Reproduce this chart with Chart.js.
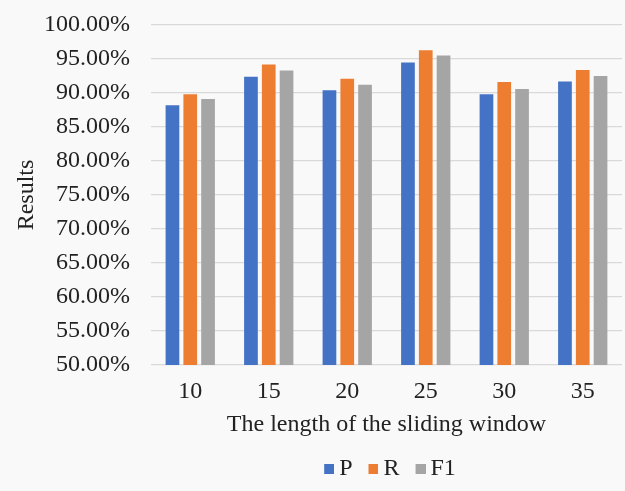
<!DOCTYPE html>
<html>
<head>
<meta charset="utf-8">
<script src="https://cdn.jsdelivr.net/npm/chart.js@4"></script>
<style>
  html, body { margin: 0; padding: 0; background: #f9f9f9; }
  #wrap { width: 625px; height: 491px; }
</style>
</head>
<body>
<div id="wrap"><canvas id="c" width="625" height="491"></canvas></div>
<script>
// Sliding-window lengths and the resulting scores (%)
const windowLengths = ['10', '15', '20', '25', '30', '35'];
const seriesNames = ['P', 'R', 'F1'];
const precision = [88.2, 92.4, 90.4, 94.5, 89.8, 91.7];
const recall    = [89.8, 94.2, 92.1, 96.3, 91.6, 93.4];
const f1Score   = [89.1, 93.3, 91.2, 95.5, 90.6, 92.5];
const seriesColors = ['#4472C4', '#ED7D31', '#A5A5A5'];

const serif = '"Liberation Serif", "Times New Roman", serif';
const ink = '#222222';

// Legend swatch: a 10px square at the right of a wider transparent
// canvas, so it sits close to its label text.
function swatch(color) {
  const cv = document.createElement('canvas');
  cv.width = 24; cv.height = 10;
  const g = cv.getContext('2d');
  g.fillStyle = color;
  g.fillRect(14, 0, 10, 10);
  return cv;
}

// Centre the legend under the plot area
const legendShift = {
  id: 'legendShift',
  afterLayout(chart) {
    const lg = chart.legend;
    const area = chart.chartArea;
    const dx = (area.left + area.right) / 2 - (lg.left + lg.right) / 2;
    lg.left += dx;
    lg.right += dx;
  }
};

new Chart(document.getElementById('c'), {
  type: 'bar',
  data: {
    labels: windowLengths,
    datasets: [
      { label: seriesNames[0], data: precision, backgroundColor: seriesColors[0] },
      { label: seriesNames[1], data: recall,    backgroundColor: seriesColors[1] },
      { label: seriesNames[2], data: f1Score,   backgroundColor: seriesColors[2] }
    ]
  },
  options: {
    responsive: false,
    animation: false,
    layout: { padding: { top: 25, right: 3, left: 0, bottom: 0 } },
    datasets: { bar: { categoryPercentage: 0.68, barPercentage: 0.77 } },
    plugins: {
      legend: {
        position: 'bottom',
        labels: {
          usePointStyle: true,
          boxWidth: 10, boxHeight: 10, padding: 9,
          color: ink,
          font: { family: serif, size: 24 },
          generateLabels(chart) {
            const items = Chart.defaults.plugins.legend.labels.generateLabels(chart);
            items.forEach((it, i) => { it.pointStyle = swatch(seriesColors[i]); });
            return items;
          }
        }
      },
      tooltip: { enabled: false }
    },
    scales: {
      x: {
        grid: { display: false, drawTicks: false },
        border: { display: false },
        ticks: { color: ink, font: { family: serif, size: 24 }, padding: 12.5 },
        title: {
          display: true, text: 'The length of the sliding window',
          color: ink, font: { family: serif, size: 24 }, padding: { top: 0, bottom: 8.5 }
        },
        afterFit(scale) { scale.height = 83; }
      },
      y: {
        min: 50, max: 100,
        grid: { color: '#d9d9d9', lineWidth: 1.2, drawTicks: false },
        border: { display: false },
        ticks: {
          stepSize: 5, padding: 21,
          color: ink, font: { family: serif, size: 24 },
          callback: v => v.toFixed(2) + '%'
        },
        title: {
          display: true, text: 'Results',
          color: ink, font: { family: serif, size: 24 }, padding: { top: 12.5, bottom: 4 }
        },
        afterFit(scale) {
          scale.width = 151;
          scale.paddingTop = 0;
          scale.paddingBottom = 0;
        }
      }
    }
  },
  plugins: [legendShift]
});
</script>
</body>
</html>
